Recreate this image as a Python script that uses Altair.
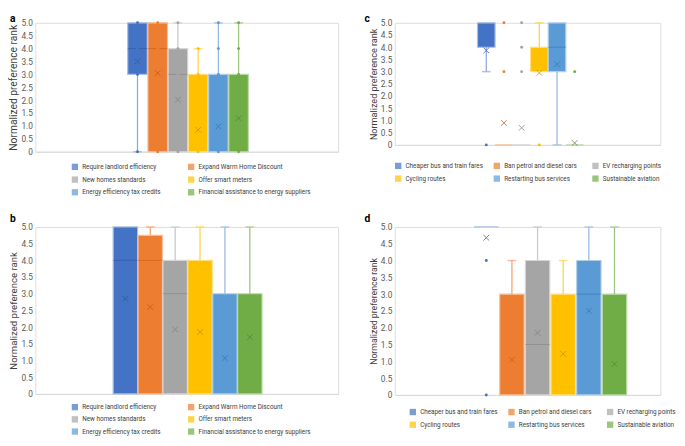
import altair as alt
import pandas as pd

# ---------------- data ----------------
energy = ["Require landlord efficiency", "Expand Warm Home Discount", "New homes standards",
          "Offer smart meters", "Energy efficiency tax credits", "Financial assistance to energy suppliers"]
transport = ["Cheaper bus and train fares", "Ban petrol and diesel cars", "EV recharging points",
             "Cycling routes", "Restarting bus services", "Sustainable aviation"]

# panel a
a_q1 = [3, 0, 0, 0, 0, 0]
a_q3 = [5, 5, 4, 3, 3, 3]
a_med = [4, 4, 3, 0, 0, 0]
a_lo = [0, 0, 0, 0, 0, 0]
a_hi = [5, 5, 5, 4, 5, 5]
a_mean = [3.5, 3.05, 2.02, 0.85, 0.98, 1.3]
a_pts = [[0, 3, 4, 5], [0, 4, 5], [0, 3, 4, 5], [0, 3, 4], [0, 3, 4, 5], [0, 3, 4, 5]]

# panel b
b_q1 = [0, 0, 0, 0, 0, 0]
b_q3 = [5, 4.75, 4, 4, 3, 3]
b_med = [4, 4, 3, 0, 0, 0]
b_lo = [0, 0, 0, 0, 0, 0]
b_hi = [5, 5, 5, 5, 5, 5]
b_mean = [2.85, 2.6, 1.93, 1.85, 1.07, 1.7]
b_pts = [[], [], [], [], [], []]

# panel c
c_q1 = [4, 0, 0, 3, 3, 0]
c_q3 = [5, 0, 0, 4, 5, 0]
c_med = [5, 0, 0, 3, 4, 0]
c_lo = [3, 0, 0, 3, 0, 0]
c_hi = [5, 0, 0, 5, 5, 0]
c_mean = [3.87, 0.9, 0.7, 2.95, 3.3, 0.08]
c_pts = [[0], [5, 3], [5, 4, 3], [0], [], [3]]

# panel d
d_q1 = [5, 0, 0, 0, 0, 0]
d_q3 = [5, 3, 4, 3, 4, 3]
d_med = [5, 0, 1.5, 0, 3, 0]
d_lo = [5, 0, 0, 0, 0, 0]
d_hi = [5, 4, 5, 4, 5, 5]
d_mean = [4.68, 1.05, 1.85, 1.22, 2.5, 0.92]
d_pts = [[4, 0], [], [], [], [], []]

y_ticks = [0, 0.5, 1, 1.5, 2, 2.5, 3, 3.5, 4, 4.5, 5]

# ---------------- styles ----------------
COLORS = ["#4472C4", "#ED7D31", "#A5A5A5", "#FFC000", "#5B9BD5", "#70AD47"]
LIGHT = ["#A9BEE5", "#F6BE98", "#D6D6D6", "#FFDF80", "#B1CFEB", "#BBD9A6"]
MID = ["#8EA9DC", "#F2A36E", "#C8C8C8", "#FFD24D", "#93BCE3", "#9BC67F"]
DARK = ["#2F5597", "#C55A11", "#7F7F7F", "#BF9000", "#2E75B6", "#548235"]
FONT = "Roboto"
X_SHAPE = "M-1,-1L1,1M1,-1L-1,1"


def panel(names, q1, q3, med, lo, hi, mean, pts, letter, width, height, xdom, box,
          title_size, leg_order, leg_rows, leg_x, leg_y, leg_align, leg_colpad, leg_rowpad,
          letter_dx, letter_dy):
    n = len(names)
    df = pd.DataFrame({"name": names, "pos": list(range(n)), "q1": q1, "q3": q3, "med": med,
                       "lo": lo, "hi": hi, "mean": mean,
                       "light": LIGHT, "mid": MID, "dark": DARK})
    rows = [{"name": names[i], "pos": i, "v": v} for i in range(n) for v in pts[i]]
    pdf = pd.DataFrame(rows if rows else [{"name": names[0], "pos": 0, "v": -1}])

    xs = alt.X("pos:Q", scale=alt.Scale(domain=xdom, nice=False, zero=False),
               axis=alt.Axis(labels=False, ticks=False, title=None, grid=False,
                             domainColor="#D9D9D9", domainWidth=1))
    ysc = alt.Scale(domain=[0, 5], nice=False, zero=True)
    yax = alt.Axis(values=y_ticks, labelExpr="datum.value == 0 ? '0' : format(datum.value, '.1f')",
                   title="Normalized preference rank", grid=False, domain=False, ticks=False,
                   labelFontSize=8.5, labelColor="#595959", labelPadding=3,
                   titleFontSize=title_size, titleFontWeight="normal", titleColor="#404040",
                   titlePadding=2, labelFont=FONT, titleFont=FONT)

    def Y(field):
        return alt.Y(field, scale=ysc, axis=yax)

    # legend entries are laid out column by column, so the domain is ordered to read row-wise
    dom = [names[i] for i in leg_order]
    rng = [COLORS[i] for i in leg_order]
    color = alt.Color("name:N", scale=alt.Scale(domain=dom, range=rng),
                      legend=alt.Legend(title=None, orient="none", legendX=leg_x, legendY=leg_y,
                                        columns=len(names) // leg_rows, direction="vertical",
                                        symbolType="square", symbolSize=42,
                                        symbolStrokeWidth=0, symbolOpacity=1,
                                        labelFontSize=6.5, labelColor="#404040", labelFont=FONT,
                                        labelLimit=0, gridAlign=leg_align,
                                        columnPadding=leg_colpad, rowPadding=leg_rowpad,
                                        labelOffset=4, padding=0))

    base = alt.Chart(df)
    boxes = base.mark_bar(size=box, strokeWidth=1.2).encode(
        x=xs, y=Y("q1:Q"), y2="q3:Q", color=color,
        stroke=alt.Stroke("light:N", scale=None))
    wlo = base.transform_filter("datum.lo < datum.q1").mark_rule(strokeWidth=1.3).encode(
        x=xs, y=Y("lo:Q"), y2="q1:Q", color=alt.Color("mid:N", scale=None))
    whi = base.transform_filter("datum.hi > datum.q3").mark_rule(strokeWidth=1.3).encode(
        x=xs, y=Y("q3:Q"), y2="hi:Q", color=alt.Color("mid:N", scale=None))
    cap_lo = base.transform_filter("datum.lo < datum.q1").mark_tick(
        orient="horizontal", size=9, thickness=1.5).encode(
        x=xs, y=Y("lo:Q"), color=alt.Color("mid:N", scale=None))
    cap_hi = base.transform_filter("datum.hi > datum.q3").mark_tick(
        orient="horizontal", size=9, thickness=1.5).encode(
        x=xs, y=Y("hi:Q"), color=alt.Color("mid:N", scale=None))
    medl = base.transform_filter("datum.med > datum.q1 && datum.med < datum.q3").mark_tick(
        orient="horizontal", size=box, thickness=1, opacity=0.55).encode(
        x=xs, y=Y("med:Q"), color=alt.Color("dark:N", scale=None))
    means = base.mark_point(shape=X_SHAPE, size=34, filled=False, strokeWidth=1, opacity=0.75).encode(
        x=xs, y=Y("mean:Q"), color=alt.Color("dark:N", scale=None))
    dots = alt.Chart(pdf).transform_filter("datum.v >= 0").mark_circle(size=9, opacity=1).encode(
        x=xs, y=Y("v:Q"), color=color)
    lab = alt.Chart(pd.DataFrame({"t": [letter]})).mark_text(
        align="left", baseline="top", fontSize=10.5, fontWeight="bold", font=FONT, color="#000000"
    ).encode(text="t:N", x=alt.value(-letter_dx), y=alt.value(-letter_dy))

    return alt.layer(boxes, wlo, whi, cap_lo, cap_hi, medl, means, dots, lab).properties(
        width=width, height=height)


pa = panel(energy, a_q1, a_q3, a_med, a_lo, a_hi, a_mean, a_pts, "a", 310, 132, [-4.81, 9.68], 20,
           10.5, [0, 2, 4, 1, 3, 5], 3, 37, 132 + 12, "each", 27, 6, 26, 9)
pb = panel(energy, b_q1, b_q3, b_med, b_lo, b_hi, b_mean, b_pts, "b", 310, 171, [-3.42, 8.35], 25,
           9.8, [0, 2, 4, 1, 3, 5], 3, 37, 171 + 10, "each", 27, 5.5, 26, 13)
pc = panel(transport, c_q1, c_q3, c_med, c_lo, c_hi, c_mean, c_pts, "c", 272, 125, [-4.9, 9.57], 18,
           9.3, [0, 3, 1, 4, 2, 5], 2, 0, 125 + 18, "all", 10, 6, 31, 9)
pd_ = panel(transport, d_q1, d_q3, d_med, d_lo, d_hi, d_mean, d_pts, "d", 272, 172, [-3.38, 6.6], 25,
            8.9, [0, 3, 1, 4, 2, 5], 2, 15, 172 + 14, "all", 10, 6, 31, 13)

left = alt.vconcat(pa, pb, spacing=17).resolve_scale(color="independent")
right = alt.vconcat(pc, pd_, spacing=31).resolve_scale(color="independent")
chart = alt.hconcat(left, right, spacing=25).resolve_scale(color="independent").properties(
    padding=0).configure_view(stroke=None).configure(font=FONT)

chart.save("out.html", embed_options={"renderer": "svg", "actions": False})
